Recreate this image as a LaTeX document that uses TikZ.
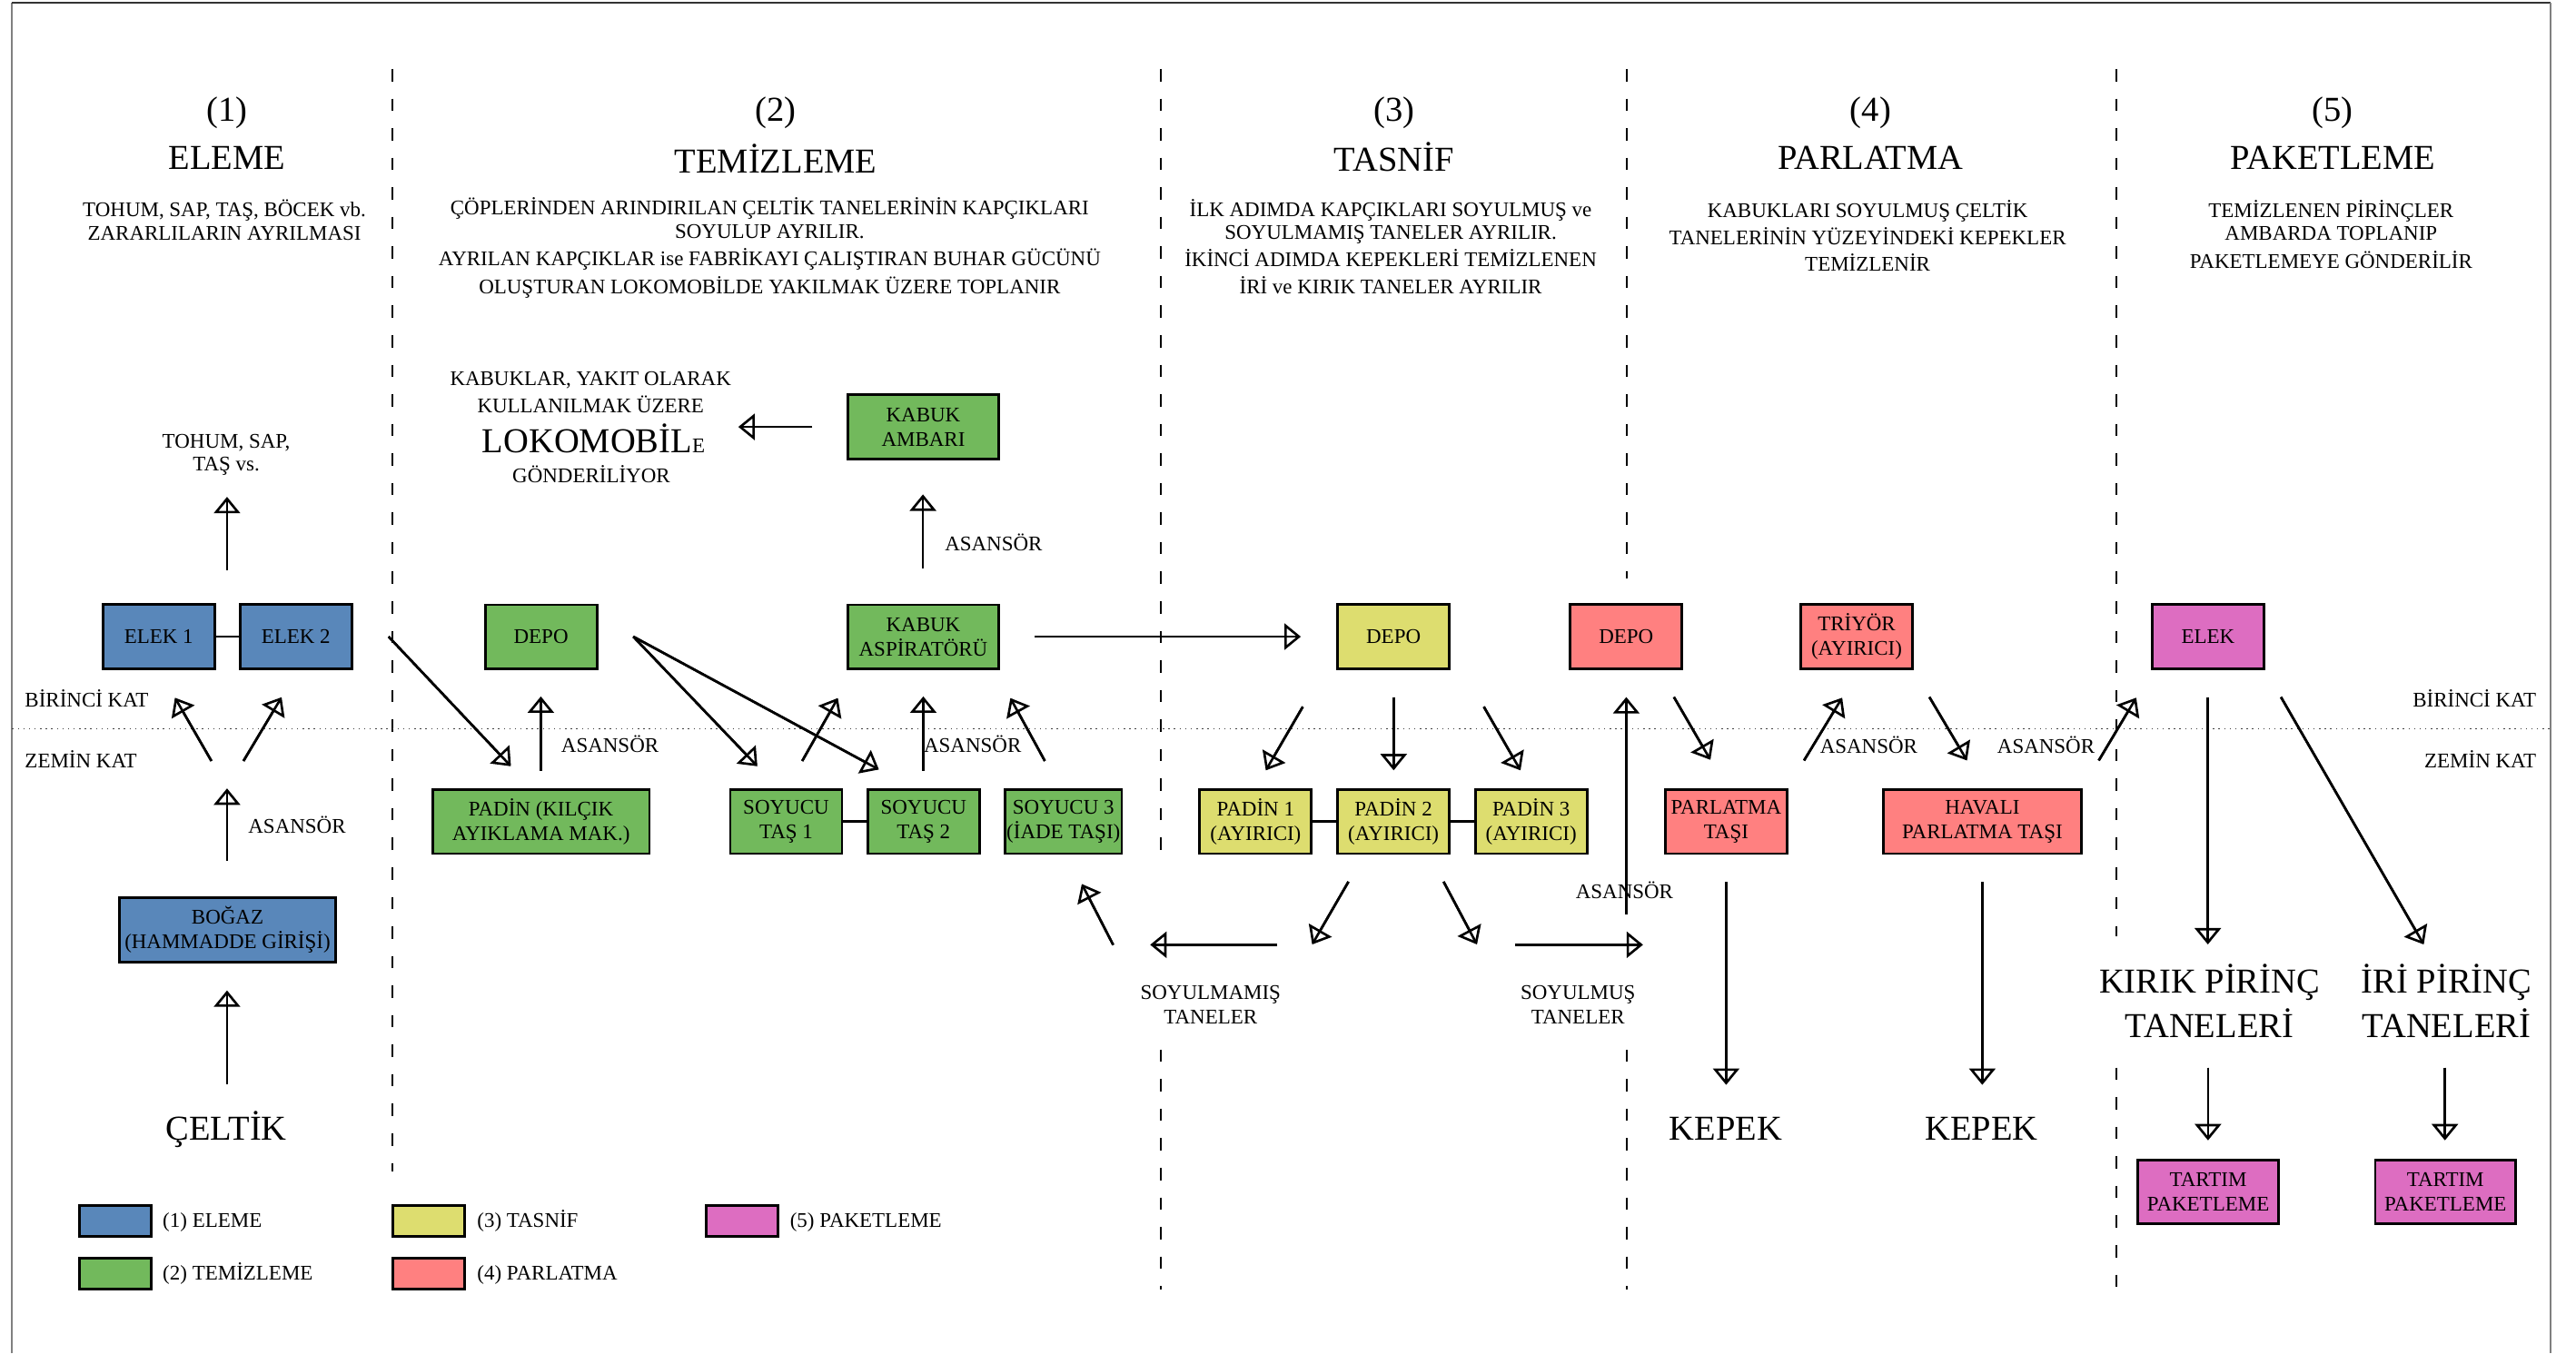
\documentclass[tikz,border=0pt]{standalone}
\usepackage{fontspec}
\setmainfont{Liberation Serif}
\usetikzlibrary{arrows.meta}

\definecolor{elemeblue}{RGB}{89,135,186}
\definecolor{temizgreen}{RGB}{114,185,92}
\definecolor{tasnifyellow}{RGB}{221,221,111}
\definecolor{parlatred}{RGB}{255,128,128}
\definecolor{paketpink}{RGB}{221,109,193}

\newcommand{\kucuk}{\fontsize{12.7}{15}\selectfont}
\newcommand{\buyuk}{\fontsize{21.3}{27.3}\selectfont}

\tikzset{
	makine/.style={draw, line width=1.6pt, minimum width=68pt, minimum height=39pt, inner sep=0pt, align=center, font=\kucuk},
	eleme/.style={makine, fill=elemeblue},
	temiz/.style={makine, fill=temizgreen},
	tasnif/.style={makine, fill=tasnifyellow},
	parlat/.style={makine, fill=parlatred},
	paket/.style={makine, fill=paketpink},
	akis/.style={line width=1.45pt, -{Triangle[open, length=10pt, width=16pt]}, postaction={draw, -, shorten >=0.9pt}},
	bag/.style={line width=1.6pt},
	yazi/.style={font=\kucuk, anchor=base, inner sep=0pt, align=center},
	baslik/.style={font=\buyuk, anchor=base, inner sep=0pt, align=center},
	ayrac/.style={line width=0.7pt, dash pattern=on 7.5pt off 10.5pt},
	kat/.style={line width=0.6pt, black!75, dash pattern=on 0.8pt off 2.6pt},
	cerceve/.style={line width=1pt, black!50},
	lejant/.style={draw, line width=1.6pt, minimum width=43.4pt, minimum height=18.8pt, inner sep=0pt}
}

\begin{document}
\begin{tikzpicture}[x=1pt, y=-1pt]
	\useasboundingbox (0,0) rectangle (1568,824);

	% cerceve, ayraclar, katlar
	\draw[cerceve] (7.4,824) -- (7.4,1.7);
	\draw[line width=0.8pt, black!80] (7.4,1.7) -- (1552.3,1.7);
	\draw[cerceve] (1552.3,1.7) -- (1552.3,824);

	\draw[ayrac] (238.8,42) -- (238.8,713);
	\draw[ayrac] (706.6,42) -- (706.6,523) (706.6,639) -- (706.6,785);
	\draw[ayrac] (990.2,42) -- (990.2,352) (990.2,639) -- (990.2,785);
	\draw[ayrac] (1288.2,42) -- (1288.2,570) (1288.2,650) -- (1288.2,785);

	\draw[kat] (7.4,443.8) -- (1552.3,443.8);

	\node[yazi, anchor=base west] (birinci1) at (15,430.2) {BİRİNCİ KAT};
	\node[yazi, anchor=base west] (zemin1) at (15,467.2) {ZEMİN KAT};
	\node[yazi, anchor=base east] (birinci2) at (1544,430.2) {BİRİNCİ KAT};
	\node[yazi, anchor=base east] (zemin2) at (1544,467.2) {ZEMİN KAT};

	% basliklar
	\node[baslik] (no1) at (138.2,73.7) {(1)};
	\node[baslik] (no2) at (472.2,73.7) {(2)};
	\node[baslik] (no3) at (848.5,73.7) {(3)};
	\node[baslik] (no4) at (1138.6,73.7) {(4)};
	\node[baslik] (no5) at (1420,73.7) {(5)};

	\node[baslik] (eleme) at (138.2,102.9) {ELEME};
	\node[baslik] (temizleme) at (472.2,105.3) {TEMİZLEME};
	\node[baslik] (tasnif) at (848.5,104.4) {TASNİF};
	\node[baslik] (parlatma) at (1138.6,103) {PARLATMA};
	\node[baslik] (paketleme) at (1420,103) {PAKETLEME};

	\node[yazi, font={\fontsize{12.7}{14.7}\selectfont}] (elemeacik) at (136.6,146.4)
		{TOHUM, SAP, TAŞ, BÖCEK vb.\\ZARARLILARIN AYRILMASI};
	\node[yazi, font={\fontsize{12.7}{14.2}\selectfont}] (temizacik) at (468.5,178.7)
		{ÇÖPLERİNDEN ARINDIRILAN ÇELTİK TANELERİNİN KAPÇIKLARI\\SOYULUP AYRILIR.\\[2.4pt]AYRILAN KAPÇIKLAR ise FABRİKAYI ÇALIŞTIRAN BUHAR GÜCÜNÜ\\[2.8pt]OLUŞTURAN LOKOMOBİLDE YAKILMAK ÜZERE TOPLANIR};
	\node[yazi, font={\fontsize{12.7}{13.9}\selectfont}] (tasnifacik) at (846.5,178.6)
		{İLK ADIMDA KAPÇIKLARI SOYULMUŞ ve\\SOYULMAMIŞ TANELER AYRILIR.\\[2.5pt]İKİNCİ ADIMDA KEPEKLERİ TEMİZLENEN\\[2.7pt]İRİ ve KIRIK TANELER AYRILIR};
	\node[yazi, font={\fontsize{12.7}{16.3}\selectfont}] (parlatacik) at (1136.8,165.2)
		{KABUKLARI SOYULMUŞ ÇELTİK\\TANELERİNİN YÜZEYİNDEKİ KEPEKLER\\TEMİZLENİR};
	\node[yazi, font={\fontsize{12.7}{14}\selectfont}] (paketacik) at (1418.9,163.2)
		{TEMİZLENEN PİRİNÇLER\\AMBARDA TOPLANIP\\[2.7pt]PAKETLEMEYE GÖNDERİLİR};

	% makineler
	\node[eleme] (elek1) at (96.6,387.6) {ELEK 1};
	\node[eleme] (elek2) at (180.1,387.6) {ELEK 2};
	\node[eleme, minimum width=132pt] (bogaz) at (138.5,566.1) {BOĞAZ\\(HAMMADDE GİRİŞİ)};

	\node[temiz] (depo1) at (329.3,387.7) {DEPO};
	\node[temiz, minimum width=91.8pt] (ambar) at (562,259.9) {KABUK\\AMBARI};
	\node[temiz, minimum width=91.8pt] (aspirator) at (562,387.7) {KABUK\\ASPİRATÖRÜ};
	\node[temiz, minimum width=132pt] (kilcik) at (329.3,500.2) {PADİN (KILÇIK\\AYIKLAMA MAK.)};
	\node[temiz] (soyucu1) at (478.5,500.2) {SOYUCU\\TAŞ 1};
	\node[temiz] (soyucu2) at (562.2,500.2) {SOYUCU\\TAŞ 2};
	\node[temiz, minimum width=71pt] (soyucu3) at (647.3,500.2) {SOYUCU 3\\(İADE TAŞI)};

	\node[tasnif] (depo2) at (848.2,387.6) {DEPO};
	\node[tasnif] (padin1) at (764.3,500.2) {PADİN 1\\(AYIRICI)};
	\node[tasnif] (padin2) at (848.2,500.2) {PADİN 2\\(AYIRICI)};
	\node[tasnif] (padin3) at (932,500.2) {PADİN 3\\(AYIRICI)};

	\node[parlat] (depo3) at (989.8,387.6) {DEPO};
	\node[parlat] (triyor) at (1130.1,387.6) {TRİYÖR\\(AYIRICI)};
	\node[parlat, minimum width=73.9pt] (parlattasi) at (1050.7,500.2) {PARLATMA\\TAŞI};
	\node[parlat, minimum width=120.6pt] (havali) at (1206.6,500.2) {HAVALI\\PARLATMA TAŞI};

	\node[paket] (elek) at (1344,387.6) {ELEK};
	\node[paket, minimum width=85.4pt] (tartim1) at (1344.1,725.7) {TARTIM\\PAKETLEME};
	\node[paket, minimum width=85.4pt] (tartim2) at (1488.5,725.7) {TARTIM\\PAKETLEME};

	\draw[bag] (elek1) -- (elek2);
	\draw[bag] (soyucu1) -- (soyucu2);
	\draw[bag] (padin1) -- (padin2);
	\draw[bag] (padin2) -- (padin3);

	% serbest yazilar
	\node[yazi, font={\fontsize{12.7}{14.2}\selectfont}] (tohumsap) at (137.7,286.8) {TOHUM, SAP,\\TAŞ vs.};
	\node[yazi, font={\fontsize{12.7}{16.6}\selectfont}] (kabuklar) at (359.5,251.2) {KABUKLAR, YAKIT OLARAK\\KULLANILMAK ÜZERE};
	\node[baslik] (lokomobil) at (361.3,275.5) {LOKOMOBİL{\kucuk E}};
	\node[yazi] (gonderiliyor) at (359.9,293.6) {GÖNDERİLİYOR};

	\node[baslik] (celtik) at (137.7,694) {ÇELTİK};
	\node[baslik] (kepek1) at (1050.5,693.9) {KEPEK};
	\node[baslik] (kepek2) at (1206.2,693.9) {KEPEK};
	\node[baslik] (kirik) at (1344.9,631.9) {KIRIK PİRİNÇ\\TANELERİ};
	\node[baslik] (iri) at (1489.2,631.9) {İRİ PİRİNÇ\\TANELERİ};

	\node[yazi, font={\fontsize{12.7}{14.7}\selectfont}] (soyulmamis) at (736.9,623.4) {SOYULMAMIŞ\\TANELER};
	\node[yazi, font={\fontsize{12.7}{14.7}\selectfont}] (soyulmus) at (960.5,623.4) {SOYULMUŞ\\TANELER};

	\node[yazi] (asansor1) at (180.8,507.5) {ASANSÖR};
	\node[yazi] (asansor2) at (371.3,458.2) {ASANSÖR};
	\node[yazi] (asansor3) at (592,458.2) {ASANSÖR};
	\node[yazi] (asansor4) at (604.8,335.5) {ASANSÖR};
	\node[yazi] (asansor5) at (988.8,546.9) {ASANSÖR};
	\node[yazi] (asansor6) at (1137.5,458.5) {ASANSÖR};
	\node[yazi] (asansor7) at (1245.4,458.5) {ASANSÖR};

	% oklarin uclari
	\coordinate (celtikust) at (138.2,660);
	\coordinate (bogazalt) at (138.2,603);
	\coordinate (bogazust) at (138.2,524);
	\coordinate (zeminorta) at (138.2,480);
	\coordinate (zeminsol) at (128.7,463.3);
	\coordinate (elek1alt) at (106.5,424.8);
	\coordinate (zeminsag) at (148.2,463.3);
	\coordinate (elek2alt) at (171.4,424.5);
	\coordinate (elekust) at (138.2,347);
	\coordinate (tohumalt) at (138.2,302.5);
	\coordinate (elek2sag) at (236.5,387.6);
	\coordinate (kilcikust) at (311,466.5);
	\coordinate (kilcikcikis) at (329.2,469.4);
	\coordinate (depo1alt) at (329.2,424);
	\coordinate (depo1sag) at (385.5,387.6);
	\coordinate (soyucu1ust) at (461,466.5);
	\coordinate (soyucu2ust) at (535,468.5);
	\coordinate (soyucu1cikis) at (488.3,463.3);
	\coordinate (aspsol) at (510,425);
	\coordinate (soyucu2cikis) at (562,469.4);
	\coordinate (aspalt) at (562,424);
	\coordinate (soyucu3cikis) at (636,463.3);
	\coordinate (aspsag) at (615,425);
	\coordinate (aspust) at (561.8,346);
	\coordinate (ambaralt) at (561.8,301);
	\coordinate (ambarsol) at (494.3,259.9);
	\coordinate (lokosag) at (449.4,259.9);
	\coordinate (aspcikis) at (630,387.6);
	\coordinate (depo2sol) at (791.8,387.6);
	\coordinate (depo2sol2) at (793,430.3);
	\coordinate (padin1ust) at (770.5,469);
	\coordinate (depo2alt) at (848.3,424.4);
	\coordinate (padin2ust) at (848.3,469);
	\coordinate (depo2sag2) at (903.2,430.3);
	\coordinate (padin3ust) at (925.5,469);
	\coordinate (padin2sol) at (820.8,536.8);
	\coordinate (ayrimsol) at (798.7,575);
	\coordinate (padin2sag) at (878.7,536.8);
	\coordinate (ayrimsag) at (899,575);
	\coordinate (soyulmamisbas) at (777.4,575.2);
	\coordinate (soyulmamisuc) at (700.1,575.2);
	\coordinate (soyulmusbas) at (922.2,575.2);
	\coordinate (soyulmusuc) at (1000.1,575.2);
	\coordinate (iadebas) at (677.6,575.3);
	\coordinate (soyucu3alt) at (658.5,538.2);
	\coordinate (asansoralt) at (989.9,556.6);
	\coordinate (depo3alt) at (989.9,424.4);
	\coordinate (depo3sag) at (1018.9,424.4);
	\coordinate (parlatust) at (1041.1,462.6);
	\coordinate (parlatsag) at (1098.1,463);
	\coordinate (triyoralt) at (1121.3,424.8);
	\coordinate (triyorsag) at (1174.4,424.4);
	\coordinate (havaliust) at (1197.3,463);
	\coordinate (havalisag) at (1277.5,463);
	\coordinate (eleksol) at (1300.3,424.8);
	\coordinate (parlatalt) at (1050.7,536.9);
	\coordinate (kepek1ust) at (1050.7,660.5);
	\coordinate (havalialt) at (1206.6,536.9);
	\coordinate (kepek2ust) at (1206.6,660.5);
	\coordinate (elekalt) at (1343.9,424.4);
	\coordinate (kirikust) at (1343.9,575);
	\coordinate (eleksag) at (1388.4,424.4);
	\coordinate (iriust) at (1475.3,575);
	\coordinate (kirikalt) at (1344,650);
	\coordinate (tartim1ust) at (1344,694.3);
	\coordinate (irialt) at (1488.2,650);
	\coordinate (tartim2ust) at (1488.2,694.3);

	% akis oklari
	\draw[akis] (celtikust) to (bogazalt);
	\draw[akis] (bogazust) to (zeminorta);
	\draw[akis] (zeminsol) to (elek1alt);
	\draw[akis] (zeminsag) to (elek2alt);
	\draw[akis] (elekust) to (tohumalt);
	\draw[akis] (elek2sag) to (kilcikust);
	\draw[akis] (kilcikcikis) to (depo1alt);
	\draw[akis] (depo1sag) to (soyucu1ust);
	\draw[akis] (depo1sag) to (soyucu2ust);
	\draw[akis] (soyucu1cikis) to (aspsol);
	\draw[akis] (soyucu2cikis) to (aspalt);
	\draw[akis] (soyucu3cikis) to (aspsag);
	\draw[akis] (aspust) to (ambaralt);
	\draw[akis] (ambarsol) to (lokosag);
	\draw[akis] (aspcikis) to (depo2sol);
	\draw[akis] (depo2sol2) to (padin1ust);
	\draw[akis] (depo2alt) to (padin2ust);
	\draw[akis] (depo2sag2) to (padin3ust);
	\draw[akis] (padin2sol) to (ayrimsol);
	\draw[akis] (padin2sag) to (ayrimsag);
	\draw[akis] (soyulmamisbas) to (soyulmamisuc);
	\draw[akis] (soyulmusbas) to (soyulmusuc);
	\draw[akis] (iadebas) to (soyucu3alt);
	\draw[akis] (asansoralt) to (depo3alt);
	\draw[akis] (depo3sag) to (parlatust);
	\draw[akis] (parlatsag) to (triyoralt);
	\draw[akis] (triyorsag) to (havaliust);
	\draw[akis] (havalisag) to (eleksol);
	\draw[akis] (parlatalt) to (kepek1ust);
	\draw[akis] (havalialt) to (kepek2ust);
	\draw[akis] (elekalt) to (kirikust);
	\draw[akis] (eleksag) to (iriust);
	\draw[akis] (kirikalt) to (tartim1ust);
	\draw[akis] (irialt) to (tartim2ust);

	% lejant
	\node[lejant, fill=elemeblue] (lej1) at (70.3,743.2) {};
	\node[lejant, fill=temizgreen] (lej2) at (70.3,775.2) {};
	\node[lejant, fill=tasnifyellow] (lej3) at (261,743.2) {};
	\node[lejant, fill=parlatred] (lej4) at (261,775.2) {};
	\node[lejant, fill=paketpink] (lej5) at (451.8,743.2) {};
	\node[yazi, anchor=base west] (lej1yazi) at (98.9,747.4) {(1) ELEME};
	\node[yazi, anchor=base west] (lej2yazi) at (98.9,779.4) {(2) TEMİZLEME};
	\node[yazi, anchor=base west] (lej3yazi) at (290.3,747.4) {(3) TASNİF};
	\node[yazi, anchor=base west] (lej4yazi) at (290.3,779.4) {(4) PARLATMA};
	\node[yazi, anchor=base west] (lej5yazi) at (480.7,747.4) {(5) PAKETLEME};
\end{tikzpicture}
\end{document}
